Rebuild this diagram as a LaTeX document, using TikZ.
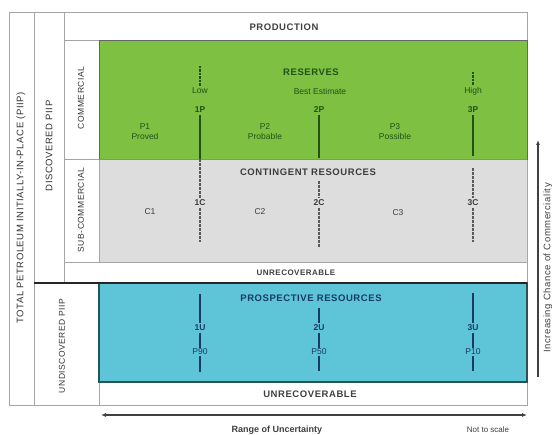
\documentclass[tikz,border=0pt]{standalone}
\usepackage{fontspec}
\setmainfont{Liberation Sans}
\newfontfamily\widefont[LetterSpace=6]{Liberation Sans}
\usetikzlibrary{arrows.meta}
\definecolor{gfill}{RGB}{125,192,66}
\definecolor{gtext}{RGB}{34,82,24}
\definecolor{grayfill}{RGB}{221,221,221}
\definecolor{graytext}{RGB}{60,60,60}
\definecolor{bfill}{RGB}{94,196,216}
\definecolor{bborder}{RGB}{40,84,88}
\definecolor{btext}{RGB}{24,58,100}
\definecolor{framec}{RGB}{165,165,165}
\begin{document}
\begin{tikzpicture}[x=1pt,y=-1pt,
  frame/.style={draw=framec,line width=0.7pt},
  hdr/.style={font=\fontsize{9.5}{11}\selectfont\bfseries\widefont,inner sep=1pt},
  uhdr/.style={font=\fontsize{8}{10}\selectfont\bfseries\widefont,inner sep=1pt},
  lbl/.style={font=\fontsize{8.5}{10}\selectfont,inner sep=1pt,align=center},
  code/.style={font=\fontsize{8.5}{9}\selectfont\bfseries,inner sep=1.5pt},
  side/.style={font=\fontsize{8.5}{10}\selectfont\widefont,rotate=90,inner sep=1pt,text=black!80},
  bigside/.style={side,font=\fontsize{9.5}{11}\selectfont\widefont},
  gl/.style={draw=gtext,line width=2.2pt},
  gdl/.style={draw=gtext,line width=2pt,dash pattern=on 2.5pt off 1pt},
  gyl/.style={draw=black!65,line width=2pt,dash pattern=on 3pt off 1pt},
  bl/.style={draw=btext,line width=2pt},
  arr/.style={draw=black!75,line width=1.6pt}
]
\useasboundingbox (0,0) rectangle (552,435);
\fill[white] (0,0) rectangle (552,435);

% coloured fields
\fill[gfill] (99,40) rectangle (527,159);
\fill[grayfill] (99,159) rectangle (527,262);
\fill[bfill] (99,283) rectangle (527,382);

% frame lines
\draw[frame] (9,12) rectangle (527,405);
\draw[frame] (34,12) -- (34,405);
\draw[frame] (64,12) -- (64,283);
\draw[frame] (64,40) -- (527,40);
\draw[frame] (99,40) -- (99,262);
\draw[frame] (99,283) -- (99,405);
\draw[frame] (64,159) -- (99,159);
\draw[frame] (64,262) -- (527,262);
\draw[frame] (99,382) -- (527,382);
\draw[draw=black!60,line width=0.5pt] (99,40) rectangle (527,159);
\draw[draw=black!45,line width=0.5pt] (99,159) -- (527,159);
\draw[draw=bborder,line width=2pt] (99,283) rectangle (527,382);
\draw[draw=black!85,line width=1.4pt] (34,283) -- (527,283);

% side labels
\node[bigside] (tpiip) at (21,208) {TOTAL PETROLEUM INITIALLY-IN-PLACE (PIIP)};
\node[bigside] (dpiip) at (49,146) {DISCOVERED PIIP};
\node[side] (upiip) at (62,346) {UNDISCOVERED PIIP};
\node[side] (comm) at (81,98) {COMMERCIAL};
\node[side] (subcomm) at (81,210) {SUB-COMMERCIAL};

% top / bottom rows
\node[hdr,text=black!75] (prod) at (284,27) {PRODUCTION};
\node[uhdr,text=black!75] (unrec1) at (296,273) {UNRECOVERABLE};
\node[hdr,text=black!75] (unrec2) at (310,394) {UNRECOVERABLE};

% reserves
\node[hdr,text=gtext] (res) at (311,72) {RESERVES};
\node[lbl,text=gtext] (low) at (200,91) {Low};
\node[lbl,text=gtext] (best) at (320,91) {Best Estimate};
\node[lbl,text=gtext] (high) at (473,91) {High};
\node[code,text=gtext] (p1) at (200,110) {1P};
\node[code,text=gtext] (p2) at (319,110) {2P};
\node[code,text=gtext] (p3) at (473,110) {3P};
\node[lbl,text=gtext] (proved) at (145,132) {P1\\Proved};
\node[lbl,text=gtext] (probable) at (265,132) {P2\\Probable};
\node[lbl,text=gtext] (possible) at (395,132) {P3\\Possible};
\coordinate (a1) at (200,66);
\coordinate (a3) at (473,72);
\coordinate (b1) at (200,159);
\coordinate (b2) at (319,158);
\coordinate (b3) at (473,156);
\draw[gdl] (a1) -- (low);
\draw[gdl] (a3) -- (high);
\draw[gl] (p1) -- (b1);
\draw[gl] (p2) -- (b2);
\draw[gl] (p3) -- (b3);

% contingent
\node[hdr,text=graytext] (cont) at (308,172) {CONTINGENT RESOURCES};
\node[lbl,text=graytext] (c1) at (150,212) {C1};
\node[lbl,text=graytext] (c2) at (260,212) {C2};
\node[lbl,text=graytext] (c3) at (398,213) {C3};
\node[code,text=graytext] (k1) at (200,203) {1C};
\node[code,text=graytext] (k2) at (319,203) {2C};
\node[code,text=graytext] (k3) at (473,203) {3C};
\coordinate (ct2) at (319,181);
\coordinate (ct3) at (473,168);
\coordinate (cb1) at (200,242);
\coordinate (cb2) at (319,247);
\coordinate (cb3) at (473,242);
\draw[gyl] (b1) -- (k1);
\draw[gyl] (ct2) -- (k2);
\draw[gyl] (ct3) -- (k3);
\draw[gyl] (k1) -- (cb1);
\draw[gyl] (k2) -- (cb2);
\draw[gyl] (k3) -- (cb3);

% prospective
\node[hdr,text=btext] (pros) at (311,298) {PROSPECTIVE RESOURCES};
\node[code,text=btext] (u1) at (200,328) {1U};
\node[code,text=btext] (u2) at (319,328) {2U};
\node[code,text=btext] (u3) at (473,328) {3U};
\node[lbl,text=btext] (q1) at (200,352) {P90};
\node[lbl,text=btext] (q2) at (319,352) {P50};
\node[lbl,text=btext] (q3) at (473,352) {P10};
\coordinate (ut1) at (200,294);
\coordinate (ut2) at (319,308);
\coordinate (ut3) at (473,293);
\coordinate (ub1) at (200,372);
\coordinate (ub2) at (319,371);
\coordinate (ub3) at (473,371);
\draw[bl] (ut1) -- (u1);
\draw[bl] (ut2) -- (u2);
\draw[bl] (ut3) -- (u3);
\draw[bl] (u1) -- (q1);
\draw[bl] (u2) -- (q2);
\draw[bl] (u3) -- (q3);
\draw[bl] (q1) -- (ub1);
\draw[bl] (q2) -- (ub2);
\draw[bl] (q3) -- (ub3);

% axes
\coordinate (xl) at (101,415);
\coordinate (xr) at (527,415);
\draw[arr,{Latex[length=5pt,width=4pt]}-{Latex[length=5pt,width=4pt]}] (xl) -- (xr);
\node[font=\fontsize{9}{10}\selectfont\bfseries,text=black!75] (range) at (277,430) {Range of Uncertainty};
\node[font=\fontsize{8}{9}\selectfont,text=black!75] (nts) at (488,430) {Not to scale};
\coordinate (yb) at (538,377);
\coordinate (yt) at (538,140);
\draw[arr,-{Latex[length=5pt,width=4pt]}] (yb) -- (yt);
\node[font=\fontsize{9.5}{11}\selectfont\widefont,rotate=90,text=black!75] (icc) at (548,268) {Increasing Chance of Commerciality};
\end{tikzpicture}
\end{document}
